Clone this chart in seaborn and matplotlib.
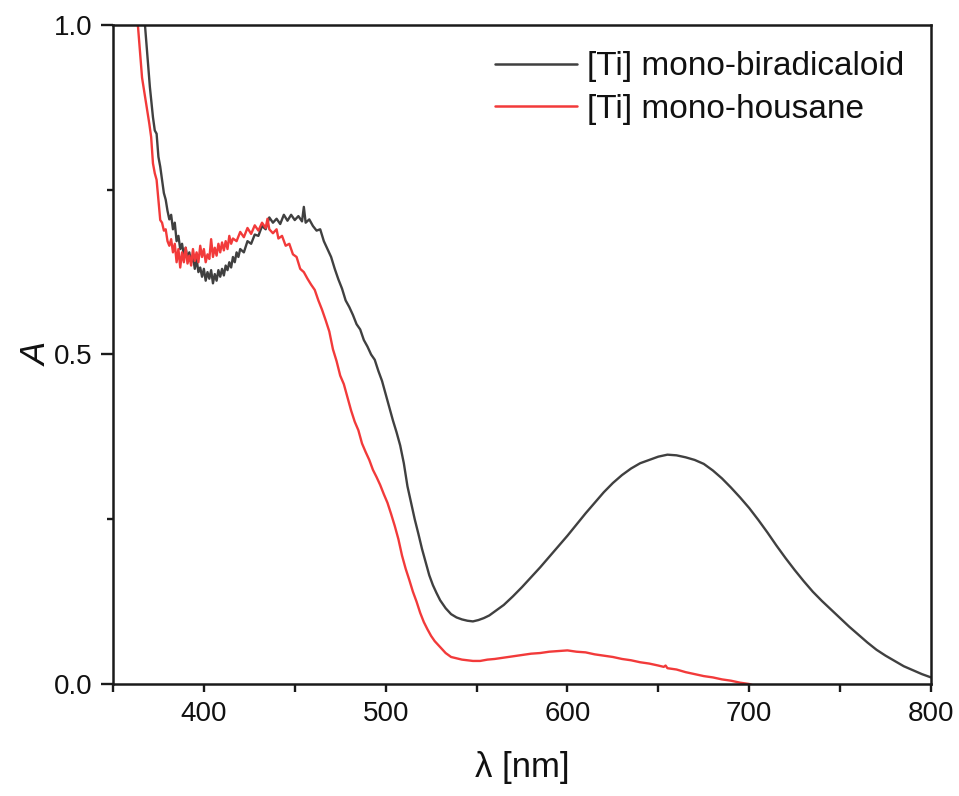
import numpy as np
import pandas as pd
import matplotlib
matplotlib.use("Agg")
import matplotlib.pyplot as plt
from matplotlib.ticker import MultipleLocator, FormatStrFormatter
import seaborn as sns

# Absorption spectrum of [Ti] mono-biradicaloid
biradicaloid_nm = [
    365, 367.6, 370.3, 372, 373, 374, 375, 376, 377, 378, 379, 380, 381, 382, 383, 384,
    385, 386, 387, 388, 389, 390, 391, 392, 393, 394, 395, 396, 397, 398, 399, 400,
    401, 402, 403, 404, 405, 406, 407, 408, 409, 410, 411, 412, 413, 414, 415, 416,
    417, 418, 419, 420, 422, 424, 426, 428, 430, 432, 434, 436, 438, 440, 442, 444,
    446, 448, 450, 452, 454, 455, 456, 458, 460, 462, 464, 466, 468, 470, 472, 474,
    476, 478, 480, 482, 484, 486, 488, 490, 492, 494, 496, 498, 500, 502, 504, 506,
    508, 510, 512, 514, 516, 518, 520, 522, 524, 526, 528, 530, 533, 536, 539, 542,
    545, 548, 551, 554, 557, 560, 565, 570, 575, 580, 585, 590, 595, 600, 605, 610,
    615, 620, 625, 630, 635, 640, 645, 650, 655, 660, 665, 670, 675, 680, 685, 690,
    695, 700, 705, 710, 715, 720, 725, 730, 735, 740, 745, 750, 755, 760, 765, 770,
    775, 780, 785, 790, 795, 800,
]
biradicaloid_A = [
    1.06, 1.0, 0.906, 0.86, 0.84, 0.835, 0.80, 0.785, 0.765, 0.745, 0.735, 0.718, 0.705, 0.712, 0.690, 0.700,
    0.672, 0.680, 0.660, 0.668, 0.650, 0.662, 0.645, 0.655, 0.640, 0.650, 0.630, 0.645, 0.625, 0.632, 0.618, 0.630,
    0.612, 0.625, 0.615, 0.628, 0.608, 0.622, 0.612, 0.628, 0.618, 0.630, 0.620, 0.635, 0.628, 0.640, 0.632, 0.648,
    0.640, 0.655, 0.648, 0.660, 0.655, 0.672, 0.668, 0.682, 0.680, 0.695, 0.690, 0.708, 0.700, 0.706, 0.698, 0.712,
    0.703, 0.712, 0.704, 0.710, 0.702, 0.724, 0.700, 0.705, 0.695, 0.688, 0.690, 0.672, 0.660, 0.648, 0.630, 0.614,
    0.600, 0.582, 0.572, 0.560, 0.546, 0.538, 0.522, 0.512, 0.500, 0.492, 0.475, 0.460, 0.440, 0.420, 0.400, 0.382,
    0.362, 0.335, 0.300, 0.275, 0.250, 0.228, 0.205, 0.185, 0.165, 0.150, 0.138, 0.127, 0.115, 0.106, 0.101, 0.098,
    0.096, 0.095, 0.097, 0.100, 0.104, 0.110, 0.120, 0.133, 0.147, 0.162, 0.177, 0.193, 0.209, 0.225, 0.242, 0.259,
    0.275, 0.291, 0.305, 0.317, 0.327, 0.335, 0.340, 0.345, 0.348, 0.347, 0.344, 0.340, 0.334, 0.324, 0.312, 0.298,
    0.283, 0.267, 0.249, 0.230, 0.210, 0.191, 0.173, 0.156, 0.140, 0.126, 0.113, 0.100, 0.087, 0.075, 0.063, 0.052,
    0.043, 0.035, 0.027, 0.021, 0.015, 0.010,
]

# Absorption spectrum of [Ti] mono-housane
housane_nm = [
    361, 363.7, 366, 368, 370, 371, 372, 373, 374, 375, 376, 377, 378, 379, 380, 381,
    382, 383, 384, 385, 386, 387, 388, 389, 390, 391, 392, 393, 394, 395, 396, 397,
    398, 399, 400, 401, 402, 403, 404, 405, 406, 407, 408, 409, 410, 411, 412, 413,
    414, 415, 416, 418, 420, 422, 424, 426, 428, 430, 432, 434, 435, 436, 438, 440,
    441, 443, 445, 447, 449, 451, 453, 455, 457, 459, 461, 463, 465, 467, 469, 471,
    473, 475, 477, 479, 481, 483, 485, 487, 489, 491, 493, 495, 497, 499, 501, 503,
    505, 507, 509, 511, 513, 515, 517, 519, 521, 523, 525, 527, 530, 533, 536, 539,
    542, 545, 548, 552, 556, 560, 565, 570, 575, 580, 585, 590, 595, 600, 605, 610,
    615, 620, 625, 630, 635, 640, 645, 650, 653, 654, 655, 660, 665, 670, 675, 680,
    685, 690, 695, 700, 702,
]
housane_A = [
    1.06, 1.0, 0.92, 0.885, 0.85, 0.83, 0.79, 0.775, 0.765, 0.735, 0.704, 0.700, 0.688, 0.690, 0.672, 0.665,
    0.675, 0.655, 0.668, 0.640, 0.660, 0.632, 0.655, 0.640, 0.662, 0.638, 0.650, 0.635, 0.660, 0.642, 0.655, 0.640,
    0.665, 0.648, 0.660, 0.640, 0.652, 0.645, 0.675, 0.648, 0.662, 0.650, 0.668, 0.655, 0.670, 0.658, 0.672, 0.660,
    0.680, 0.668, 0.676, 0.672, 0.686, 0.678, 0.692, 0.683, 0.696, 0.688, 0.700, 0.692, 0.706, 0.690, 0.684, 0.690,
    0.676, 0.680, 0.665, 0.668, 0.652, 0.648, 0.630, 0.625, 0.615, 0.606, 0.598, 0.582, 0.568, 0.552, 0.535, 0.508,
    0.490, 0.468, 0.455, 0.435, 0.415, 0.398, 0.385, 0.365, 0.352, 0.340, 0.325, 0.314, 0.302, 0.288, 0.275, 0.258,
    0.240, 0.220, 0.195, 0.175, 0.158, 0.140, 0.125, 0.108, 0.094, 0.083, 0.073, 0.065, 0.056, 0.047, 0.041, 0.039,
    0.037, 0.036, 0.035, 0.035, 0.037, 0.038, 0.040, 0.042, 0.044, 0.046, 0.047, 0.049, 0.050, 0.051, 0.049, 0.048,
    0.045, 0.043, 0.041, 0.038, 0.036, 0.033, 0.031, 0.028, 0.026, 0.028, 0.024, 0.022, 0.018, 0.015, 0.012, 0.010,
    0.007, 0.005, 0.002, 0.000, -0.002,
]

series_names = ["[Ti] mono-biradicaloid", "[Ti] mono-housane"]
series_colors = ["#404040", "#f23a3a"]

df = pd.concat([
    pd.DataFrame({"nm": biradicaloid_nm, "A": biradicaloid_A, "sample": series_names[0]}),
    pd.DataFrame({"nm": housane_nm, "A": housane_A, "sample": series_names[1]}),
], ignore_index=True)

sns.set_theme(style="ticks")
plt.rcParams["font.family"] = ["Liberation Sans", "DejaVu Sans"]
plt.rcParams["text.color"] = "#111111"
plt.rcParams["axes.labelcolor"] = "#111111"
plt.rcParams["xtick.color"] = "#111111"
plt.rcParams["ytick.color"] = "#111111"

fig = plt.figure(figsize=(9.59, 7.96), dpi=100)
ax = fig.add_axes([0.1178, 0.1407, 0.8530, 0.8279])

sns.lineplot(data=df, x="nm", y="A", hue="sample", hue_order=series_names,
             palette=dict(zip(series_names, series_colors)), estimator=None,
             sort=False, linewidth=1.7, ax=ax)

ax.set_xlim(350, 800)
ax.set_ylim(0, 1)
ax.xaxis.set_major_locator(MultipleLocator(100))
ax.xaxis.set_minor_locator(MultipleLocator(50))
ax.yaxis.set_major_locator(MultipleLocator(0.5))
ax.yaxis.set_minor_locator(MultipleLocator(0.25))
ax.yaxis.set_major_formatter(FormatStrFormatter("%.1f"))

for s in ax.spines.values():
    s.set_color("#1a1a1a")
    s.set_linewidth(1.8)

ax.tick_params(axis="x", which="both", direction="out", length=5.5, width=1.7,
               color="#1a1a1a", labelsize=20, labelcolor="#111111", pad=7, top=False)
ax.tick_params(axis="y", which="major", direction="out", length=9, width=1.7,
               color="#1a1a1a", labelsize=20, labelcolor="#111111", pad=6, right=False)
ax.tick_params(axis="y", which="minor", direction="out", length=4.5, width=1.7,
               color="#1a1a1a", right=False)

ax.set_xlabel("λ [nm]", fontsize=25, labelpad=17)
ax.set_ylabel("A", fontsize=25, style="italic", labelpad=0)

leg = ax.legend(loc="upper left", bbox_to_anchor=(0.467, 0.960), frameon=False,
                fontsize=24, handlelength=2.45, handletextpad=0.3, labelspacing=0.35,
                borderpad=0, borderaxespad=0)
for text in leg.get_texts():
    text.set_color("#111111")
for line in leg.get_lines():
    line.set_linewidth(1.8)

fig.savefig("out.png", dpi=100, facecolor="white")
